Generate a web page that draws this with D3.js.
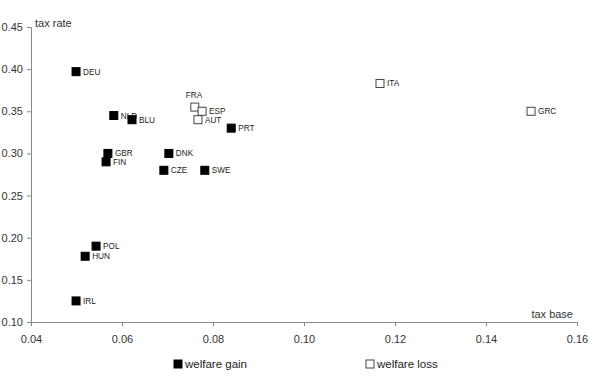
<!DOCTYPE html>
<html><head><meta charset="utf-8">
<script src="https://cdn.jsdelivr.net/npm/d3@7"></script>
<style>
body{margin:0;background:#fff;}
svg{display:block;font-family:"Liberation Sans",Arial,sans-serif;}
</style></head>
<body><svg id="c" width="594" height="377"></svg>
<script>
const countries = ["DEU","NLD","BLU","GBR","FIN","DNK","CZE","SWE","PRT","FRA","ESP","AUT","ITA","GRC","POL","HUN","IRL"];
const taxBase   = [0.0499,0.0582,0.0622,0.0569,0.0565,0.0703,0.0692,0.0782,0.0840,0.0760,0.0776,0.0767,0.1167,0.1499,0.0543,0.0519,0.0499];
const taxRate   = [0.397,0.345,0.340,0.300,0.290,0.300,0.280,0.280,0.330,0.355,0.350,0.340,0.383,0.350,0.190,0.178,0.125];
const outcome   = ["gain","gain","gain","gain","gain","gain","gain","gain","gain","loss","loss","loss","loss","loss","gain","gain","gain"];
const xTicks = [0.04,0.06,0.08,0.10,0.12,0.14,0.16];
const yTicks = [0.10,0.15,0.20,0.25,0.30,0.35,0.40,0.45];
const legendLabels = ["welfare gain","welfare loss"];

const svg = d3.select("#c");
const x = d3.scaleLinear().domain([0.04,0.16]).range([31,577]);
const y = d3.scaleLinear().domain([0.10,0.45]).range([322,27]);
const axisColor = "#888";

const gx = svg.append("g").attr("transform","translate(0,322)")
  .call(d3.axisBottom(x).tickValues(xTicks).tickFormat(d3.format(".2f")).tickSize(4));
const gy = svg.append("g").attr("transform","translate(31,0)")
  .call(d3.axisLeft(y).tickValues(yTicks).tickFormat(d3.format(".2f")).tickSize(4));
[gx,gy].forEach(g=>{
  g.selectAll("path,line").attr("stroke",axisColor);
  g.selectAll("text").attr("fill","#333").attr("font-size",11).attr("font-family","Liberation Sans, Arial, sans-serif");
});
gx.selectAll("text").attr("dy","1.3em");
gy.selectAll("text").attr("x",-8);

svg.append("text").attr("x",35).attr("y",27).attr("font-size",11).attr("fill","#333").text("tax rate");
svg.append("text").attr("x",573).attr("y",318).attr("text-anchor","end").attr("font-size",11).attr("fill","#333").text("tax base");

const data = countries.map((c,i)=>({c,xb:taxBase[i],yr:taxRate[i],o:outcome[i]}));
const s = 8;
const dyAdj = {ESP:-0.5, AUT:0.5};
const pts = svg.append("g").selectAll("g").data(data).join("g");
pts.append("rect")
  .attr("x",d=>x(d.xb)-s/2).attr("y",d=>y(d.yr)-s/2).attr("width",s).attr("height",s)
  .attr("fill",d=>d.o==="gain"?"#000":"#fff")
  .attr("stroke",d=>d.o==="gain"?"#000":"#444").attr("stroke-width",1);
pts.append("text")
  .attr("x",d=>d.c==="FRA"? x(d.xb)-9 : x(d.xb)+7)
  .attr("y",d=>d.c==="FRA"? y(d.yr)-9 : y(d.yr)+3+(dyAdj[d.c]||0))
  .attr("font-size",8.2).attr("fill","#222").text(d=>d.c);

const lg = svg.append("g");
const lx = [174,366];
legendLabels.forEach((l,i)=>{
  lg.append("rect").attr("x",lx[i]).attr("y",360).attr("width",8).attr("height",8)
    .attr("fill",i===0?"#000":"#fff").attr("stroke",i===0?"#000":"#444");
  lg.append("text").attr("x",lx[i]+11).attr("y",368).attr("font-size",11.5).attr("fill","#222").text(l);
});
</script></body></html>
